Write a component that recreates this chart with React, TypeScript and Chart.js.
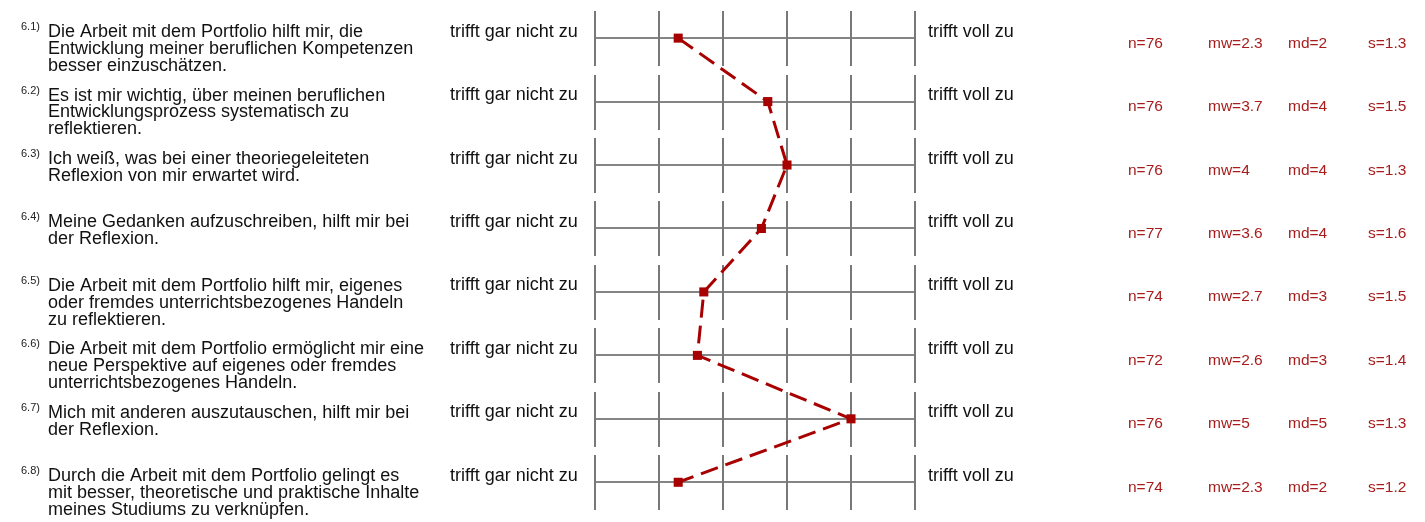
import React, { useEffect, useRef } from 'react';
import { Chart, registerables } from 'chart.js';

Chart.register(...registerables);

const questionNumbers = ['6.1)', '6.2)', '6.3)', '6.4)', '6.5)', '6.6)', '6.7)', '6.8)'];
const questionLines: string[][] = [
  ['Die Arbeit mit dem Portfolio hilft mir, die', 'Entwicklung meiner beruflichen Kompetenzen', 'besser einzuschätzen.'],
  ['Es ist mir wichtig, über meinen beruflichen', 'Entwicklungsprozess systematisch zu', 'reflektieren.'],
  ['Ich weiß, was bei einer theoriegeleiteten', 'Reflexion von mir erwartet wird.'],
  ['Meine Gedanken aufzuschreiben, hilft mir bei', 'der Reflexion.'],
  ['Die Arbeit mit dem Portfolio hilft mir, eigenes', 'oder fremdes unterrichtsbezogenes Handeln', 'zu reflektieren.'],
  ['Die Arbeit mit dem Portfolio ermöglicht mir eine', 'neue Perspektive auf eigenes oder fremdes', 'unterrichtsbezogenes Handeln.'],
  ['Mich mit anderen auszutauschen, hilft mir bei', 'der Reflexion.'],
  ['Durch die Arbeit mit dem Portfolio gelingt es', 'mit besser, theoretische und praktische Inhalte', 'meines Studiums zu verknüpfen.'],
];
const scaleSteps = [1, 2, 3, 4, 5, 6];
const leftPole = 'trifft gar nicht zu';
const rightPole = 'trifft voll zu';
const nValues = [76, 76, 76, 77, 74, 72, 76, 74];
const meanValues = [2.3, 3.7, 4, 3.6, 2.7, 2.6, 5, 2.3];
const medianValues = [2, 4, 4, 4, 3, 3, 5, 2];
const sdValues = [1.3, 1.5, 1.3, 1.6, 1.5, 1.4, 1.3, 1.2];

const RED = '#a80000';
const STAT_RED = '#a81c1c';
const FONT = '"Liberation Sans", Arial, sans-serif';

export default function App() {
  const ref = useRef<HTMLCanvasElement>(null);

  useEffect(() => {
    const canvas = ref.current;
    if (!canvas) return;
    const rows = meanValues.map((_, i) => i + 1);

    const profilePlugin = {
      id: 'profileGrid',
      beforeDatasetsDraw(chart: any) {
        const { ctx, scales } = chart;
        const x = scales.x;
        const y = scales.y;
        ctx.save();
        rows.forEach((r) => {
          const cy = Math.round(y.getPixelForValue(r));
          ctx.strokeStyle = '#5c5c5c';
          ctx.lineWidth = 1.5;
          ctx.beginPath();
          ctx.moveTo(x.getPixelForValue(scaleSteps[0]), cy);
          ctx.lineTo(x.getPixelForValue(scaleSteps[scaleSteps.length - 1]), cy);
          ctx.stroke();
          ctx.strokeStyle = '#787878';
          ctx.lineWidth = 2;
          scaleSteps.forEach((v) => {
            const px = Math.round(x.getPixelForValue(v));
            ctx.beginPath();
            ctx.moveTo(px, cy - 27);
            ctx.lineTo(px, cy + 28);
            ctx.stroke();
          });
        });
        ctx.restore();
      },
      afterDraw(chart: any) {
        const { ctx, scales } = chart;
        const x = scales.x;
        const y = scales.y;
        ctx.save();
        ctx.textBaseline = 'alphabetic';
        ctx.textAlign = 'left';
        const leftEdge = x.getPixelForValue(scaleSteps[0]);
        const rightEdge = x.getPixelForValue(scaleSteps[scaleSteps.length - 1]);
        rows.forEach((r, i) => {
          const cy = y.getPixelForValue(r);
          // number
          ctx.fillStyle = '#222';
          ctx.font = `11px ${FONT}`;
          ctx.fillText(questionNumbers[i], 21, cy - 8);
          // question lines
          ctx.font = `18px ${FONT}`;
          ctx.fillStyle = '#111';
          questionLines[i].forEach((line, k) => {
            ctx.fillText(line, 48, cy - 1 + k * 16.8);
          });
          // poles
          ctx.fillText(leftPole, leftEdge - 145, cy - 1.5);
          ctx.fillText(rightPole, rightEdge + 13, cy - 1.5);
          // stats
          ctx.font = `15.5px ${FONT}`;
          ctx.fillStyle = STAT_RED;
          const sy = cy + 9.5;
          ctx.fillText(`n=${nValues[i]}`, 1128, sy);
          ctx.fillText(`mw=${meanValues[i]}`, 1208, sy);
          ctx.fillText(`md=${medianValues[i]}`, 1288, sy);
          ctx.fillText(`s=${sdValues[i]}`, 1368, sy);
        });
        ctx.restore();
      },
    };

    const chart = new Chart(canvas, {
      type: 'line',
      data: {
        datasets: [
          {
            data: meanValues.map((v, i) => ({ x: v, y: rows[i] })),
            borderColor: RED,
            backgroundColor: RED,
            borderWidth: 3,
            borderDash: [18, 8],
            pointStyle: 'rect',
            pointRadius: 6.4,
            pointBorderWidth: 0,
            pointBackgroundColor: RED,
            tension: 0,
            fill: false,
            clip: false as any,
          },
        ],
      },
      options: {
        animation: false,
        responsive: false,
        devicePixelRatio: 1,
        events: [],
        layout: { padding: { left: 595, right: 510, top: 2, bottom: 8 } },
        plugins: { legend: { display: false }, tooltip: { enabled: false } },
        scales: {
          x: { type: 'linear', min: 1, max: 6, display: false },
          y: { type: 'linear', min: 0.5, max: 8.5, reverse: true, display: false },
        },
      },
      plugins: [profilePlugin],
    });
    return () => chart.destroy();
  }, []);

  return (
    <div style={{ position: 'fixed', left: 0, top: 0, width: 1425, height: 522, background: '#fff' }}>
      <canvas ref={ref} width={1425} height={522} style={{ display: 'block', width: 1425, height: 522 }} />
    </div>
  );
}
